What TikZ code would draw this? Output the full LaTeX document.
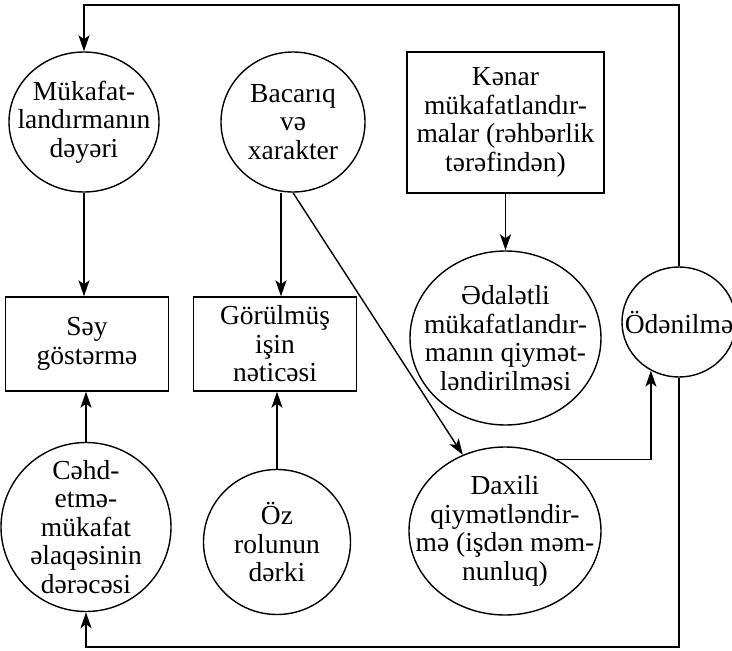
\documentclass[tikz,border=0pt]{standalone}
\usepackage{fontspec}
\setmainfont{Liberation Serif}
\usetikzlibrary{shapes.geometric,arrows.meta}
\begin{document}
\begin{tikzpicture}[x=1pt,y=-1pt,
  every node/.style={align=center,font=\fontsize{27.5}{28.5}\selectfont,inner sep=0pt},
  ell/.style={draw,line width=1.4pt,ellipse},
  box/.style={draw,line width=1.4pt,rectangle},
  arr/.style={line width=1.4pt,-{Stealth[length=16pt,width=11pt,inset=4pt]}},
  ln/.style={line width=1.4pt}]
\useasboundingbox (0,0) rectangle (732,651);
\node[ell,minimum width=150pt,minimum height=140pt] (mk) at (84,122) {};
\node (mkt) at (mk) {Mükafat-\\landırmanın\\dəyəri};
\node[ell,minimum width=144pt,minimum height=140pt] (bc) at (293,122) {};
\node (bct) at (bc) {Bacarıq\\və\\xarakter};
\node[box,minimum width=197pt,minimum height=141pt] (kn) at (505.5,122.5) {Kənar\\mükafatlandır-\\malar (rəhbərlik\\tərəfindən)};
\node[box,minimum width=163pt,minimum height=94pt] (say) at (87,344) {Səy\\göstərmə};
\node[box,minimum width=163pt,minimum height=94pt] (gr) at (275,344) {Görülmüş\\işin\\nəticəsi};
\node[ell,minimum width=191pt,minimum height=174pt] (ed) at (505.5,338) {};
\node (edt) at (ed) {Ədalətli\\mükafatlandır-\\manın qiymət-\\ləndirilməsi};
\node[ell,minimum width=114pt,minimum height=110pt] (od) at (679,322) {};
\node (odt) at (od) {Ödənilmə};
\node[ell,minimum width=170pt,minimum height=169pt] (ch) at (86,527) {};
\node (cht) at (ch) {Cəhd-\\etmə-\\mükafat\\əlaqəsinin\\dərəcəsi};
\node[ell,minimum width=147pt,minimum height=145pt] (oz) at (277,542) {};
\node (ozt) at (oz) {Öz\\rolunun\\dərki};
\node[ell,minimum width=192pt,minimum height=168pt] (dx) at (505,531) {};
\node (dxt) at (dx) {Daxili\\qiymətləndir-\\mə (işdən məm-\\nunluq)};
\coordinate (tp) at (679,5);
\coordinate (bt) at (679,647);
\draw[arr] (od.north) -- (tp) -| (mk.north);
\draw[arr] (od.south) -- (bt) -| (ch.south);
\draw[arr] (mk.south) -- (mk.south |- say.north);
\draw[arr] (ch.north) -- (ch.north |- say.south);
\draw[arr] ([xshift=-12pt]bc.south) -- ([xshift=-12pt]bc.south |- gr.north);
\draw[arr] (oz.north) -- (oz.north |- gr.south);
\draw[arr] (bc.south) -- (dx.119.5);
\draw[arr] (kn.south) -- (ed.north);
\draw[arr] (dx.54) -| (od.240);
\end{tikzpicture}
\end{document}
